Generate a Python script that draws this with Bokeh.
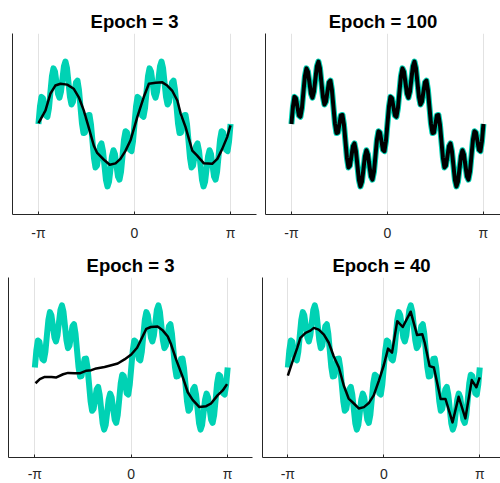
import numpy as np
from bokeh.plotting import figure
from bokeh.layouts import column, row
from bokeh.models import Range1d, FixedTicker, CustomJSTickFormatter
from bokeh.embed import file_html
from bokeh.resources import INLINE

# ---------------- data ----------------
titles = ["Epoch = 3", "Epoch = 100", "Epoch = 3", "Epoch = 40"]

# target function (teal), sampled uniformly from -pi to pi
target_y = [
    0.00, 0.38, 0.60, 0.57, 0.38, 0.19, 0.16, 0.35, 0.71, 1.06, 1.23, 1.16, 0.92, 0.67, 0.58, 0.71,
    1.00, 1.28, 1.38, 1.24, 0.92, 0.60, 0.43, 0.49, 0.71, 0.92, 0.96, 0.75, 0.38, 0.01, -0.20, -0.19,
    0.00, 0.19, 0.20, -0.01, -0.38, -0.75, -0.96, -0.92, -0.71, -0.49, -0.43, -0.60, -0.92, -1.24, -1.38, -1.28,
    -1.00, -0.71, -0.58, -0.67, -0.92, -1.16, -1.23, -1.06, -0.71, -0.35, -0.16, -0.19, -0.38, -0.57, -0.60, -0.38,
    0.00, 0.38, 0.60, 0.57, 0.38, 0.19, 0.16, 0.35, 0.71, 1.06, 1.23, 1.16, 0.92, 0.67, 0.58, 0.71,
    1.00, 1.28, 1.38, 1.24, 0.92, 0.60, 0.43, 0.49, 0.71, 0.92, 0.96, 0.75, 0.38, 0.01, -0.20, -0.19,
    0.00, 0.19, 0.20, -0.01, -0.38, -0.75, -0.96, -0.92, -0.71, -0.49, -0.43, -0.60, -0.92, -1.24, -1.38, -1.28,
    -1.00, -0.71, -0.58, -0.67, -0.92, -1.16, -1.23, -1.06, -0.71, -0.35, -0.16, -0.19, -0.38, -0.57, -0.60, -0.38,
    0.00,
]
target_x = np.linspace(-np.pi, np.pi, len(target_y))

# network output, top-left panel (epoch 3)
pred_a_x = [-3.14, -2.91, -2.75, -2.59, -2.42, -2.20, -1.99, -1.82, -1.66, -1.50, -1.33, -1.22,
            -1.00, -0.81, -0.62, -0.46, -0.30, -0.13, 0.09, 0.30, 0.47, 0.69, 0.91, 1.07, 1.23,
            1.40, 1.51, 1.67, 1.78, 1.89, 2.05, 2.27, 2.54, 2.71, 2.87, 3.03, 3.14]
pred_a_y = [0.02, 0.30, 0.67, 0.85, 0.89, 0.87, 0.78, 0.59, 0.30, -0.07, -0.48, -0.64,
            -0.79, -0.90, -0.87, -0.77, -0.60, -0.36, 0.15, 0.59, 0.89, 0.91, 0.92, 0.85, 0.74,
            0.52, 0.23, -0.07, -0.33, -0.59, -0.70, -0.87, -0.88, -0.77, -0.55, -0.29, -0.03]

# network output, top-right panel (epoch 100): lies on the target
pred_b_x = target_x
pred_b_y = target_y

# network output, bottom-left panel (epoch 3)
pred_c_x = [-3.12, -2.98, -2.82, -2.60, -2.44, -2.22, -2.06, -1.84, -1.68, -1.46, -1.30, -1.14,
            -0.87, -0.65, -0.44, -0.22, 0.00, 0.19, 0.35, 0.49, 0.64, 0.86, 1.03, 1.19, 1.30,
            1.46, 1.68, 1.84, 2.00, 2.22, 2.44, 2.60, 2.81, 2.98, 3.12]
pred_c_y = [-0.35, -0.26, -0.21, -0.21, -0.22, -0.15, -0.12, -0.13, -0.13, -0.07, -0.06, -0.02,
            0.01, 0.05, 0.09, 0.18, 0.29, 0.44, 0.66, 0.86, 0.90, 0.91, 0.82, 0.69, 0.51,
            0.18, -0.22, -0.55, -0.72, -0.88, -0.86, -0.80, -0.62, -0.51, -0.37]

# network output, bottom-right panel (epoch 40)
pred_d_x = [-3.14, -3.00, -2.83, -2.73, -2.56, -2.40, -2.29, -2.13, -1.96, -1.80, -1.64, -1.47,
            -1.31, -1.15, -0.98, -0.82, -0.65, -0.49, -0.33, -0.16, 0.00, 0.14, 0.27, 0.44,
            0.62, 0.88, 1.09, 1.26, 1.34, 1.50, 1.64, 1.86, 2.02, 2.25, 2.45, 2.67, 2.88,
            3.03, 3.14]
pred_d_y = [-0.18, 0.11, 0.44, 0.66, 0.77, 0.82, 0.88, 0.84, 0.73, 0.55, 0.25, 0.00,
            -0.40, -0.69, -0.80, -0.91, -0.88, -0.79, -0.62, -0.29, 0.05, 0.42, 0.33, 1.03,
            0.90, 1.24, 0.72, 0.74, 0.55, 0.03, 0.00, -0.70, -0.70, -1.22, -0.65, -1.13, -0.28,
            -0.44, -0.22]

x_ticks = [-np.pi, 0.0, np.pi]

# ---------------- styling ----------------
TEAL = "#00D2B4"
AX = "#262626"
GRID = "#e2e2e2"
FONT = "Liberation Sans"


def make_panel(title, px, py, black_w, xr, fw, fh, mbl, mbr, mbt, mbb, standoff):
    p = figure(frame_width=fw, frame_height=fh,
               x_range=Range1d(*xr), y_range=Range1d(-2, 2),
               output_backend="svg", toolbar_location=None,
               min_border_left=mbl, min_border_right=mbr,
               min_border_top=mbt, min_border_bottom=mbb)
    p.outline_line_color = None
    p.background_fill_color = "white"
    p.border_fill_color = "white"

    p.title.text = title
    p.title.align = "center"
    p.title.text_font = FONT
    p.title.text_font_size = "18.5px"
    p.title.text_font_style = "bold"
    p.title.text_color = "black"
    p.title.standoff = 3

    # x axis
    p.xaxis.ticker = FixedTicker(ticks=x_ticks)
    p.xaxis.formatter = CustomJSTickFormatter(code="""
        if (Math.abs(tick) < 1e-6) { return "0"; }
        return tick < 0 ? "-\u03c0" : "\u03c0";
    """)
    p.xaxis.major_label_text_font = FONT
    p.xaxis.major_label_text_font_size = "14px"
    p.xaxis.major_label_text_color = AX
    p.xaxis.major_label_standoff = standoff
    p.xaxis.axis_line_color = AX
    p.xaxis.major_tick_line_color = AX
    p.xaxis.major_tick_in = 3
    p.xaxis.major_tick_out = 0
    p.xaxis.minor_tick_line_color = None

    # y axis: only the spine
    p.yaxis.ticker = FixedTicker(ticks=[])
    p.yaxis.major_label_text_font_size = "0px"
    p.yaxis.major_label_standoff = 0
    p.yaxis.major_tick_in = 0
    p.yaxis.major_tick_out = 0
    p.yaxis.minor_tick_line_color = None
    p.yaxis.axis_line_color = AX

    p.xgrid.ticker = FixedTicker(ticks=x_ticks)
    p.xgrid.grid_line_color = GRID
    p.ygrid.grid_line_color = None

    p.line(target_x, target_y, line_width=6, line_color=TEAL, line_join="round")
    p.line(px, py, line_width=black_w, line_color="black", line_join="round")
    return p


p1 = make_panel(titles[0], pred_a_x, pred_a_y, 2.5, (-3.99, 3.99), 244, 181, 12, 4, 33, 30, 10)
p2 = make_panel(titles[1], pred_b_x, pred_b_y, 4, (-3.99, 3.70), 235, 181, 5, 0, 33, 30, 10)
p3 = make_panel(titles[2], pred_c_x, pred_c_y, 2.5, (-4.0, 3.95), 244, 180, 8, 5, 33, 0, 8)
p4 = make_panel(titles[3], pred_d_x, pred_d_y, 2.5, (-3.97, 3.82), 238, 180, 5, 0, 33, 0, 8)

layout = column(row(p1, p2, spacing=0), row(p3, p4, spacing=0), spacing=0)

open("out.html", "w").write(file_html(layout, INLINE))
